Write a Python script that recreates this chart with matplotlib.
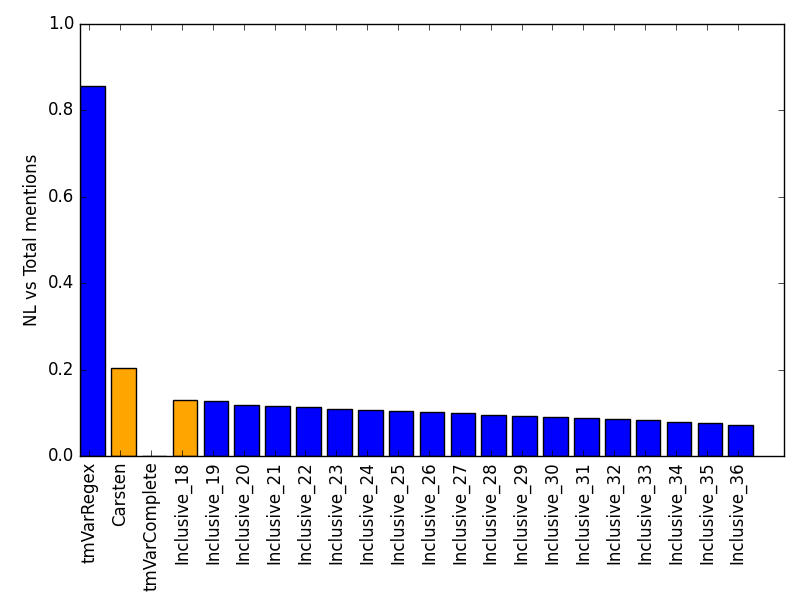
import matplotlib
import numpy as np

matplotlib.use("Agg")
import matplotlib.pyplot as plt

plt.style.use("classic")

labels = [
    "tmVarRegex", "Carsten", "tmVarComplete",
    "Inclusive_18", "Inclusive_19", "Inclusive_20", "Inclusive_21",
    "Inclusive_22", "Inclusive_23", "Inclusive_24", "Inclusive_25",
    "Inclusive_26", "Inclusive_27", "Inclusive_28", "Inclusive_29",
    "Inclusive_30", "Inclusive_31", "Inclusive_32", "Inclusive_33",
    "Inclusive_34", "Inclusive_35", "Inclusive_36",
]
values = [
    0.856, 0.203, 0.001,
    0.129, 0.127, 0.118, 0.116,
    0.113, 0.109, 0.106, 0.104,
    0.101, 0.099, 0.095, 0.093,
    0.090, 0.088, 0.085, 0.083,
    0.078, 0.076, 0.072,
]
highlighted = ["Carsten", "Inclusive_18"]

colors = ["orange" if name in highlighted else "#0000ff" for name in labels]
ind = np.arange(len(labels))

fig = plt.figure(figsize=(8, 6), dpi=100, facecolor="white")
ax = fig.add_axes([0.1, 0.24, 0.88, 0.72])
ax.bar(ind, values, width=0.8, align="edge", color=colors, edgecolor="black", linewidth=1)
ax.set_xticks(ind + 0.3)
ax.set_xticklabels(labels, rotation=90, fontsize=12)
ax.set_xlim(0, 22.8)
ax.set_ylim(0, 1.0)
ax.set_yticks(np.arange(0, 1.01, 0.2))
ax.yaxis.set_major_formatter(matplotlib.ticker.FormatStrFormatter("%.1f"))
ax.set_ylabel("NL vs Total mentions", fontsize=12)

fig.savefig("out.png", dpi=100, facecolor="white")
